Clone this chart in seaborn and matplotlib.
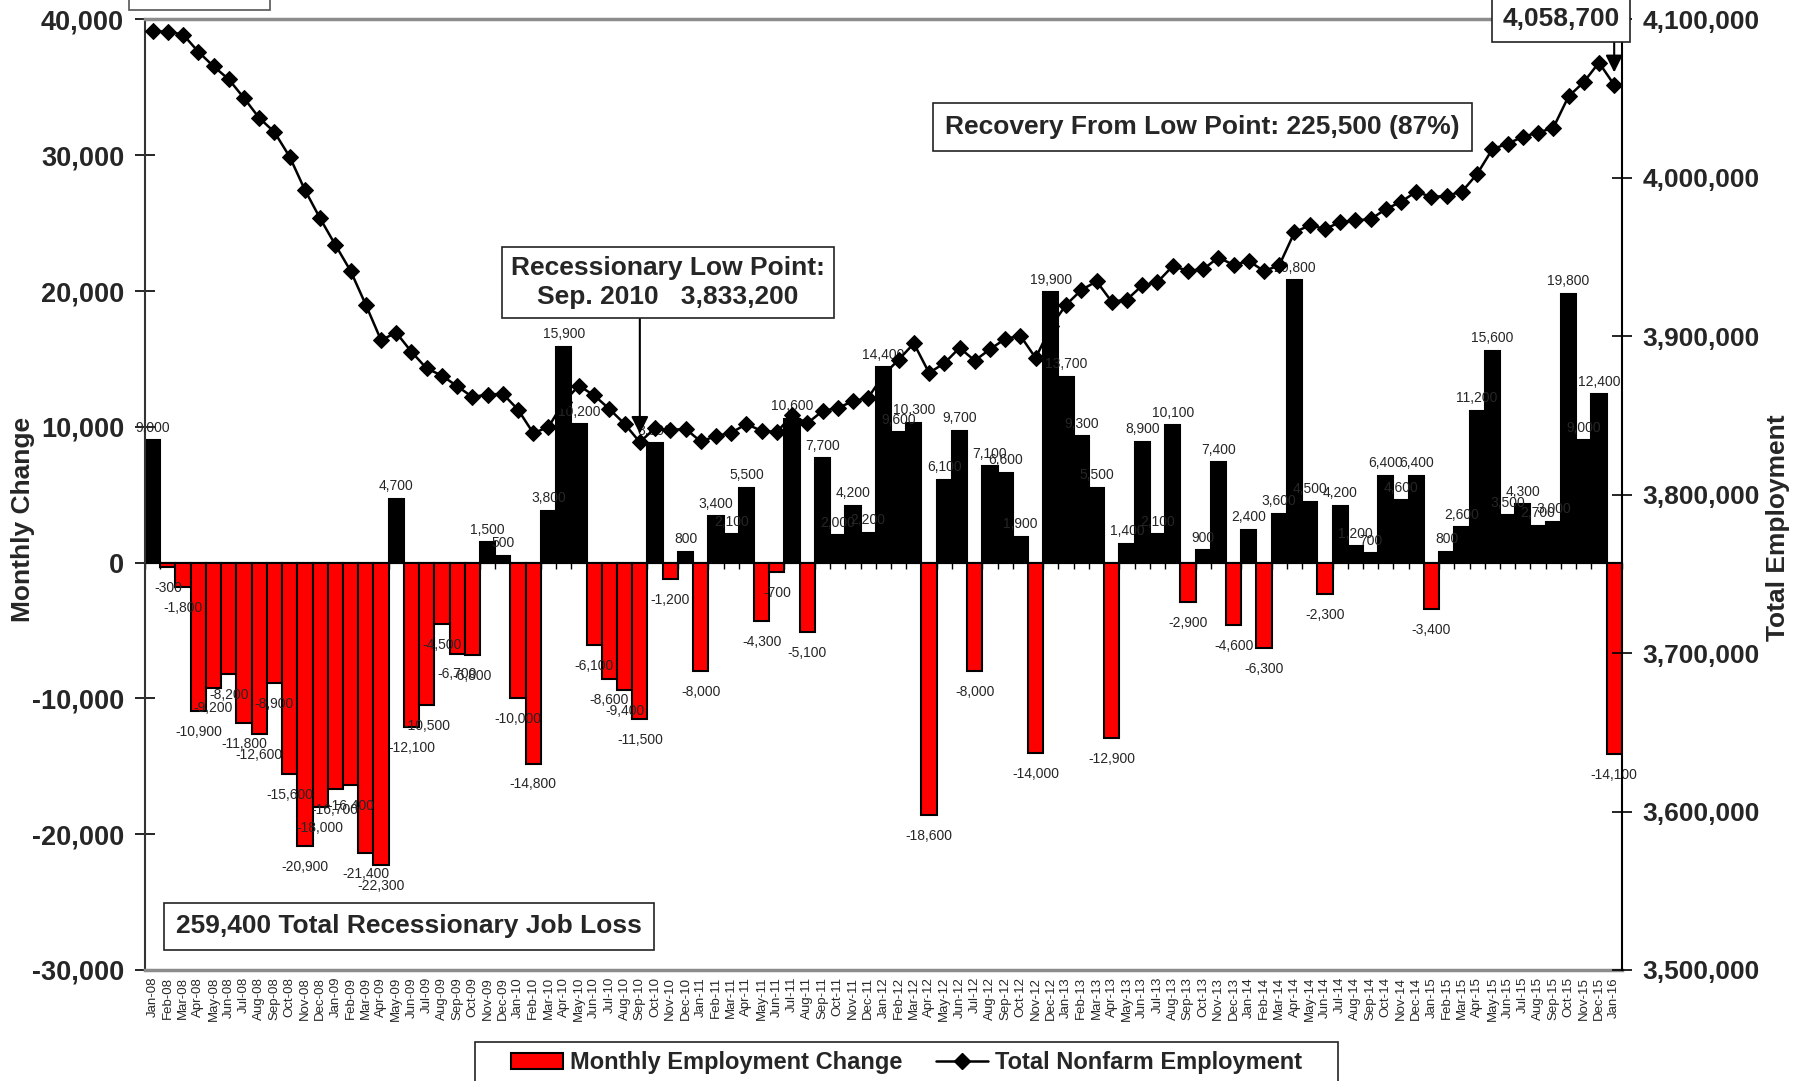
import matplotlib.pyplot as plt
from matplotlib.lines import Line2D
from matplotlib.patches import Patch, Rectangle
import numpy as np
import pandas as pd
import seaborn as sns

# month categories Jan-08 .. Jan-16
month_names = ['Jan', 'Feb', 'Mar', 'Apr', 'May', 'Jun',
               'Jul', 'Aug', 'Sep', 'Oct', 'Nov', 'Dec']
years = ['08', '09', '10', '11', '12', '13', '14', '15', '16']
months = [f'{m}-{y}' for y in years for m in month_names][:97]

# over-the-month employment change
change = [
    9000, -300, -1800, -10900, -9200, -8200, -11800, -12600, -8900, -15600, -20900, -18000,
    -16700, -16400, -21400, -22300, 4700, -12100, -10500, -4500, -6700, -6800, 1500, 500,
    -10000, -14800, 3800, 15900, 10200, -6100, -8600, -9400, -11500, 8800, -1200, 800,
    -8000, 3400, 2100, 5500, -4300, -700, 10600, -5100, 7700, 2000, 4200, 2200,
    14400, 9600, 10300, -18600, 6100, 9700, -8000, 7100, 6600, 1900, -14000, 19900,
    13700, 9300, 5500, -12900, 1400, 8900, 2100, 10100, -2900, 900, 7400, -4600,
    2400, -6300, 3600, 20800, 4500, -2300, 4200, 1200, 700, 6400, 4600, 6400,
    -3400, 800, 2600, 11200, 15600, 3500, 4300, 2700, 3000, 19800, 9000, 12400,
    -14100,
]

# total nonfarm employment
total = [
    4092600, 4092300, 4090500, 4079600, 4070400, 4062200, 4050400, 4037800, 4028900, 4013300, 3992400, 3974400,
    3957700, 3941300, 3919900, 3897600, 3902300, 3890200, 3879700, 3875200, 3868500, 3861700, 3863200, 3863700,
    3853700, 3838900, 3842700, 3858600, 3868800, 3862700, 3854100, 3844700, 3833200, 3842000, 3840800, 3841600,
    3833600, 3837000, 3839100, 3844600, 3840300, 3839600, 3850200, 3845100, 3852800, 3854800, 3859000, 3861200,
    3875600, 3885200, 3895500, 3876900, 3883000, 3892700, 3884700, 3891800, 3898400, 3900300, 3886300, 3906200,
    3919900, 3929200, 3934700, 3921800, 3923200, 3932100, 3934200, 3944300, 3941400, 3942300, 3949700, 3945100,
    3947500, 3941200, 3944800, 3965600, 3970100, 3967800, 3972000, 3973200, 3973900, 3980300, 3984900, 3991300,
    3987900, 3988700, 3991300, 4002500, 4018100, 4021600, 4025900, 4028600, 4031600, 4051400, 4060400, 4072800,
    4058700,
]

left_ticks = [-30000, -20000, -10000, 0, 10000, 20000, 30000, 40000]
right_ticks = [3500000, 3600000, 3700000, 3800000, 3900000, 4000000, 4100000]

low_month = 'Sep-10'
last_month = 'Jan-16'

df = pd.DataFrame({'month': months, 'change': change, 'total': total})
df['pos'] = np.arange(len(df))
df['sign'] = np.where(df['change'] < 0, 'loss', 'gain')

sns.set_theme(style='white')
plt.rcParams['font.family'] = ['Liberation Sans', 'DejaVu Sans']

fig, ax = plt.subplots(figsize=(18.04, 10.81), dpi=100)
fig.subplots_adjust(left=0.0804, right=0.899, bottom=0.1027, top=0.982)

# bars for monthly change
sns.barplot(data=df, x='month', y='change', hue='sign',
            palette={'gain': 'black', 'loss': '#ff0000'}, saturation=1,
            dodge=False, width=1.0, edgecolor='black', linewidth=1.5,
            errorbar=None, legend=False, ax=ax)
for bars in ax.containers:
    vals = [v for v in bars.datavalues if not np.isnan(v)]
    labels = ['' if np.isnan(v) else f'{v:,.0f}' for v in bars.datavalues]
    pad = 10 if vals and vals[0] < 0 else 4
    ax.bar_label(bars, labels=labels, padding=pad, fontsize=10)

ax.set_ylim(left_ticks[0], left_ticks[-1])
ax.set_yticks(left_ticks, labels=[f'{t:,}' for t in left_ticks],
              fontsize=19.5, fontweight='bold')
ax.tick_params(axis='y', left=True, direction='inout', length=14, width=1.2,
               pad=8, color='black')
ax.tick_params(axis='x', bottom=False, length=0, labelsize=9.5,
               labelrotation=90, pad=5)
ax.set_xlabel('')
ax.set_ylabel('Monthly Change', fontsize=19, fontweight='bold')
ax.yaxis.set_label_coords(-0.0748, 0.4745)
for side in ['top', 'bottom']:
    ax.spines[side].set_color('#8c8c8c')
    ax.spines[side].set_linewidth(2.5)
ax.spines['left'].set_color('#333333')
ax.spines['left'].set_linewidth(1.5)
ax.spines['right'].set_visible(False)

# category axis crossing at zero with small ticks between bars
zero_frac = (0 - left_ticks[0]) / (left_ticks[-1] - left_ticks[0])
zero_axis = ax.secondary_xaxis(zero_frac)
zero_axis.set_xticks(np.arange(-0.5, len(months), 1.0))
zero_axis.tick_params(axis='x', direction='out', length=4, width=1,
                      labelbottom=False, labeltop=False, color='black',
                      bottom=True)
for sp in zero_axis.spines.values():
    sp.set_color('black')
    sp.set_linewidth(1.5)

# total employment line
ax2 = ax.twinx()
sns.lineplot(data=df, x='pos', y='total', ax=ax2, color='black', marker='D',
             markersize=8.5, markeredgecolor='black', linewidth=1.8)
ax2.set_ylim(right_ticks[0], right_ticks[-1])
ax2.set_yticks(right_ticks, labels=[f'{t:,}' for t in right_ticks],
               fontsize=19, fontweight='bold')
ax2.tick_params(axis='y', right=True, direction='inout', length=14, width=1.2,
                pad=8, color='black')
ax2.set_xlabel('')
ax2.set_ylabel('Total Employment', fontsize=19, fontweight='bold')
ax2.yaxis.set_label_coords(1.0975, 0.4656)
for side in ['top', 'bottom', 'left']:
    ax2.spines[side].set_visible(False)
ax2.spines['right'].set_color('black')
ax2.spines['right'].set_linewidth(1.5)
ax.set_xlim(-0.5, len(months) - 0.5)

# annotation boxes
txt = dict(fontsize=19, fontweight='bold', ha='center', va='center',
           transform=ax2.transAxes, zorder=10)


def boxed(pad):
    return dict(boxstyle=f'square,pad={pad}', facecolor='white',
                edgecolor='#222222', linewidth=1.2)


ax2.text(0.354, 0.723, 'Recessionary Low Point:\nSep. 2010   3,833,200',
         linespacing=1.25, bbox=boxed(0.35), **txt)
ax2.text(0.716, 0.887, 'Recovery From Low Point: 225,500 (87%)',
         bbox=boxed(0.45), **txt)
ax2.text(0.1787, 0.0458, '259,400 Total Recessionary Job Loss',
         bbox=boxed(0.45), **txt)
ax2.text(0.959, 1.0, f'{df.total.iloc[-1]:,}', clip_on=False,
         bbox=boxed(0.4), **txt)

arrow = dict(arrowstyle='-|>', color='black', lw=1.5, mutation_scale=26,
             shrinkA=0)
i_low = months.index(low_month)
ax2.annotate('', xy=(i_low, total[i_low]), xytext=(i_low, 0.6853),
             textcoords=('data', 'axes fraction'),
             arrowprops=dict(shrinkB=6, **arrow), zorder=9)
i_last = months.index(last_month)
ax2.annotate('', xy=(i_last, total[i_last]), xytext=(i_last, 0.977),
             textcoords=('data', 'axes fraction'),
             arrowprops=dict(shrinkB=9, **arrow), zorder=9)

# cut-off box at the top left
fig.add_artist(Rectangle((0.0715, 0.9907), 0.078, 0.05, transform=fig.transFigure,
                         facecolor='white', edgecolor='#555555', linewidth=1.2))

# legend, framed by a box running off the bottom edge
fig.add_artist(Rectangle((0.2633, -0.05), 0.4784, 0.0861, transform=fig.transFigure,
                         facecolor='white', edgecolor='#222222', linewidth=1.2))
handles = [
    Patch(facecolor='#ff0000', edgecolor='black', linewidth=1.5,
          label='Monthly Employment Change'),
    Line2D([], [], color='black', marker='D', markersize=8.5, linewidth=1.8,
           label='Total Nonfarm Employment'),
]
fig.legend(handles=handles, loc='center', bbox_to_anchor=(0.5025, 0.0167),
           ncol=2, frameon=False, prop={'weight': 'bold', 'size': 17},
           handlelength=2.2, handletextpad=0.3, columnspacing=1.4,
           borderpad=0, borderaxespad=0)

fig.savefig('out.png', dpi=100)
